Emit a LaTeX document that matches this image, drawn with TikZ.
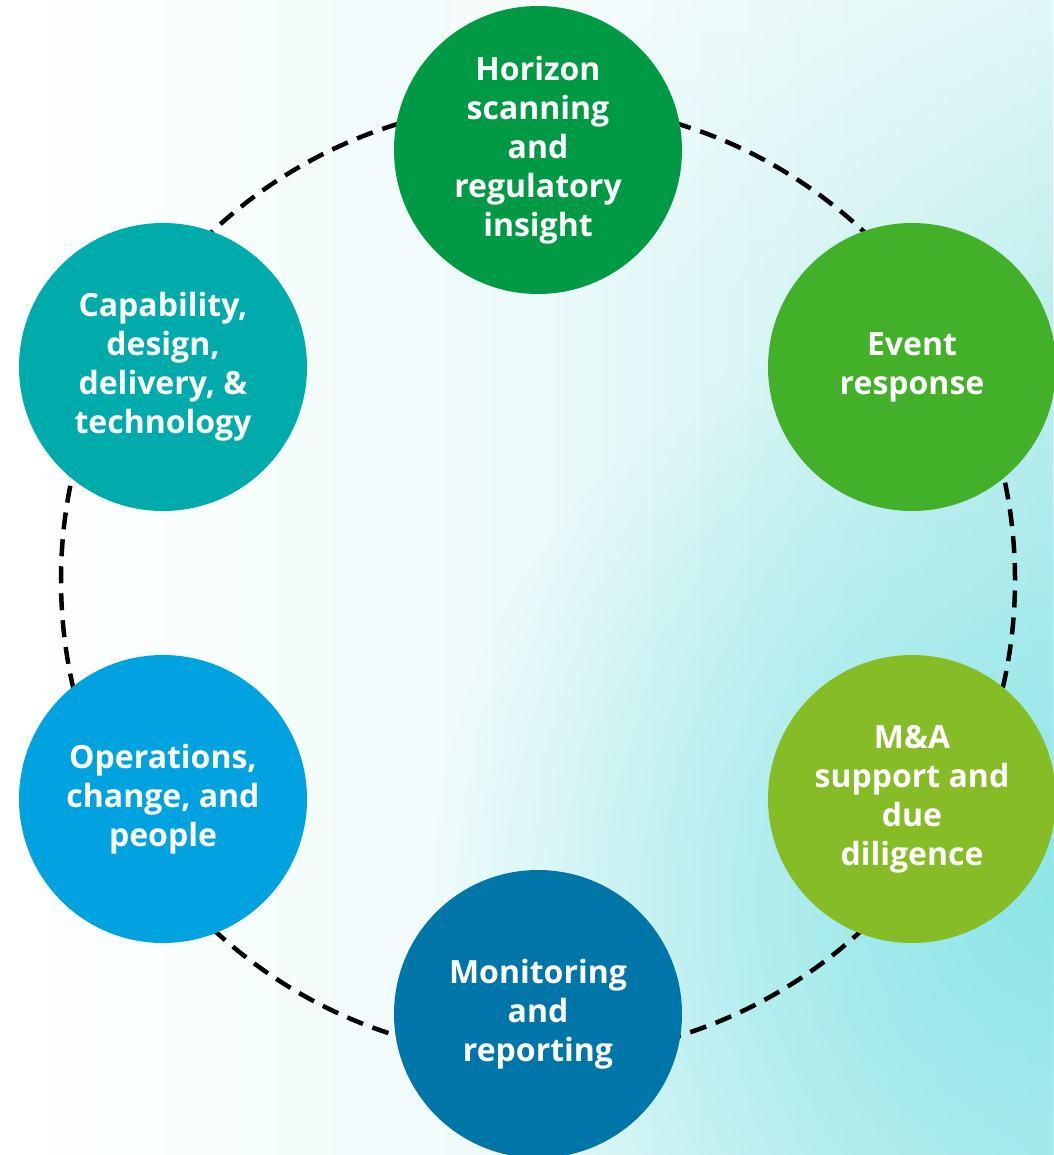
\documentclass[tikz,border=0pt]{standalone}
\usepackage{fontspec}
\setmainfont{Open Sans}
\usetikzlibrary{fadings}

\definecolor{hgreen}{HTML}{009A44}
\definecolor{egreen}{HTML}{43B02A}
\definecolor{mgreen}{HTML}{86BC25}
\definecolor{mblue}{HTML}{0076A8}
\definecolor{oblue}{HTML}{00A3E0}
\definecolor{cteal}{HTML}{00ABAB}
\definecolor{bgcyan}{HTML}{C2EFEF}
\definecolor{bgdeep}{HTML}{8FE6E8}

\tikzfading[name=softspot, inner color=transparent!0, outer color=transparent!100]

\begin{document}
\begin{tikzpicture}[x=1pt, y=-1pt,
    bubble/.style={circle, minimum size=288pt, inner sep=0pt, text=white,
        align=center, font=\bfseries\fontsize{32}{39}\selectfont},
    ring/.style={black, line width=4.5pt, dash pattern=on 17pt off 10pt}]
    % Background
    \useasboundingbox (0,0) rectangle (1053,1155);
    \shade[left color=white, right color=bgcyan, middle color=white!70!bgcyan]
        (0,0) rectangle (1053,1155);
    \fill[bgdeep, path fading=softspot, fit fading=true] (1053,900) circle[radius=620pt];
    \fill[white, path fading=south, opacity=0.5] (450,0) rectangle (1053,300);

    % Dashed ring
    \coordinate (centre) at (538,580);
    \draw[ring] (centre) circle[radius=477pt];

    % Circles
    \node[bubble, fill=hgreen] (horizon) at (538,150)
        {Horizon\\scanning\\and\\regulatory\\insight};
    \node[bubble, fill=egreen] (event) at (912,367)
        {Event\\response};
    \node[bubble, fill=mgreen] (manda) at (912,799)
        {M\&A\\support and\\due\\diligence};
    \node[bubble, fill=mblue] (monitoring) at (538,1014)
        {Monitoring\\and\\reporting};
    \node[bubble, fill=oblue] (operations) at (163,799)
        {Operations,\\change, and\\people};
    \node[bubble, fill=cteal] (capability) at (163,367)
        {Capability,\\design,\\delivery, \&\\technology};
\end{tikzpicture}
\end{document}
